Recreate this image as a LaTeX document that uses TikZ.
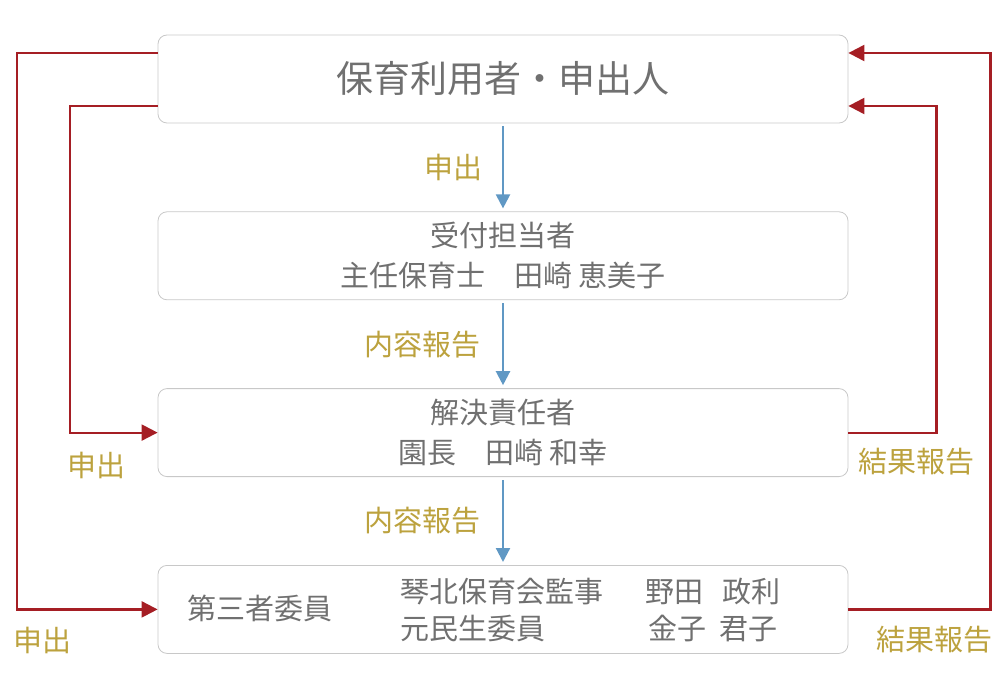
\documentclass[tikz,border=0pt]{standalone}
\usepackage{fontspec}
\setmainfont{Noto Sans CJK JP}
\usetikzlibrary{positioning,arrows.meta}
\definecolor{boxgray}{RGB}{200,200,200}
\definecolor{textgray}{RGB}{112,112,112}
\definecolor{labelgold}{RGB}{188,162,62}
\definecolor{flowblue}{RGB}{96,152,196}
\definecolor{backred}{RGB}{165,30,36}

\begin{document}
\begin{tikzpicture}[x=1pt, y=-1pt, node distance=88pt,
  every node/.style={text=textgray},
  stage/.style={draw=boxgray, line width=0.8pt, rounded corners=9pt, minimum width=690pt, minimum height=88pt, align=center, font=\fontsize{29}{40}\selectfont},
  entry/.style={font=\fontsize{29}{36}\selectfont, inner sep=0pt},
  lbl/.style={text=labelgold, font=\fontsize{29}{32}\selectfont, inner sep=0pt},
  down/.style={flowblue, line width=2.2pt, -{Triangle[width=14pt,length=14pt]}, shorten <=3pt, shorten >=3pt},
  back/.style={backred, line width=2.2pt, -{Triangle[width=16pt,length=16pt]}}]
\useasboundingbox (0,0) rectangle (1008,700);

\node[stage, font=\fontsize{37}{40}\selectfont] (user) at (503,79) {保育利用者・申出人};
\node[stage, below=of user] (reception) {受付担当者\\主任保育士　田崎 恵美子};
\node[stage, below=of reception] (resolver) {解決責任者\\園長　田崎 和幸};
\node[stage, below=of resolver] (panel) {};

\node[entry] (third) at (260,608) {第三者委員};
\node[entry, anchor=west] (auditor) at (400,592) {琴北保育会監事};
\node[entry, anchor=west] (welfare) at (400,629) {元民生委員};
\node[entry, anchor=west] (noda) at (645,592) {野田\hspace{19pt}政利};
\node[entry, anchor=west] (kaneko) at (648,629) {金子\hspace{13pt}君子};

\draw[down] (user) -- node[lbl, left=19pt] (ask1) {申出} (reception);
\draw[down] (reception) -- node[lbl, left=21pt] (rep1) {内容報告} (resolver);
\draw[down] (resolver) -- node[lbl, left=21pt] (rep2) {内容報告} (panel);

\draw[back] ([yshift=26pt]user.west) -| ([xshift=-141pt]panel.west) -- (panel.west);
\draw[back] ([yshift=-27pt]user.west) -| ([xshift=-88pt]resolver.west) -- (resolver.west);
\draw[back] (resolver.east) -- ([xshift=88pt]resolver.east) |- ([yshift=-27pt]user.east);
\draw[back] (panel.east) -- ([xshift=142pt]panel.east) |- ([yshift=26pt]user.east);

\node[lbl] (ask2) at (96,465) {申出};
\node[lbl] (ask3) at (42,640) {申出};
\node[lbl] (result1) at (916,462) {結果報告};
\node[lbl] (result2) at (934,640) {結果報告};
\end{tikzpicture}
\end{document}
